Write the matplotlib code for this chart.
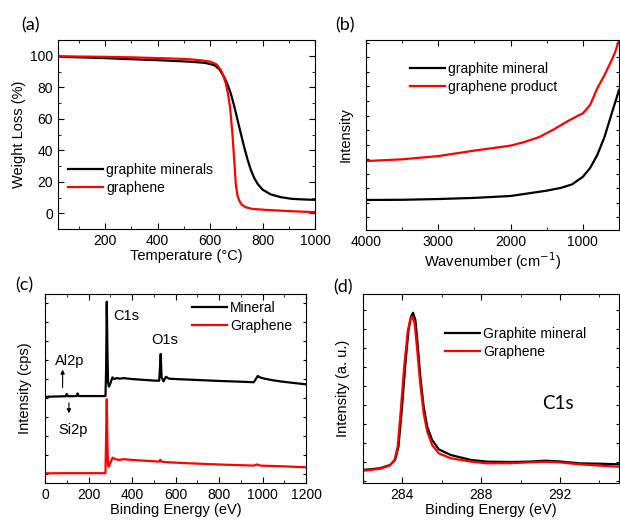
import numpy as np
import matplotlib
matplotlib.use('Agg')
import matplotlib.pyplot as plt
from matplotlib.ticker import MultipleLocator, NullFormatter

plt.rcParams['font.family'] = ['Liberation Sans', 'DejaVu Sans']
plt.rcParams['font.size'] = 10
plt.rcParams['xtick.direction'] = 'in'
plt.rcParams['ytick.direction'] = 'in'
plt.rcParams['xtick.top'] = True
plt.rcParams['ytick.right'] = True
plt.rcParams['xtick.major.size'] = 4
plt.rcParams['ytick.major.size'] = 4
plt.rcParams['xtick.minor.size'] = 2.5
plt.rcParams['ytick.minor.size'] = 2.5
plt.rcParams['axes.linewidth'] = 0.8

# (a) TGA
T_min = [20, 30, 100, 200, 300, 400, 500, 526, 580, 615, 635, 653, 666, 679, 692, 705,
         718, 730, 743, 756, 768, 781, 800, 832, 870, 909, 950, 1000]
w_min = [100, 99.3, 99.0, 98.5, 97.8, 97.2, 96.4, 96.2, 95.5, 94.1, 91.5, 86.6, 82, 76, 68, 59,
         50, 42, 34, 27.2, 22.5, 18.7, 15, 11.9, 10.2, 9.2, 8.8, 8.5]
T_gr = [20, 30, 100, 200, 300, 400, 500, 526, 570, 602, 625, 641, 651, 660, 668, 676, 685,
        692, 698, 704, 711, 720, 736, 760, 807, 909, 1000]
w_gr = [100, 99.7, 99.5, 99.3, 99.0, 98.5, 98.0, 97.7, 97.0, 96.2, 94.5, 90.9, 87, 82.4, 76, 67.5, 50.6,
        33.6, 18.7, 11.5, 8.1, 5.5, 3.8, 2.8, 2.2, 1.3, 0.7]

# (b) IR
wn_min = [4000, 3500, 3000, 2500, 2000, 1500, 1300, 1150, 1000, 900, 800, 700, 600, 550, 500]
ir_min = [15.8, 15.9, 16.3, 16.9, 17.9, 20.7, 22.2, 24, 28, 32.6, 39.5, 49, 61.5, 67.5, 73.7]
wn_gr = [4000, 3500, 3000, 2500, 2000, 1800, 1600, 1400, 1200, 1050, 1000, 900, 800, 700, 600, 550, 500]
ir_gr = [36.3, 37.2, 38.9, 41.8, 44.4, 46.4, 49, 53, 57.5, 60.5, 61.4, 65.8, 74.6, 81.6, 89.5, 94, 100]

# (c) XPS survey
be_min = [0, 60, 95, 100, 105, 145, 150, 155, 200, 278, 281, 284, 287, 290, 294, 300, 310, 318,
          330, 345, 360, 400, 450, 500, 525, 529, 532, 536, 545, 556, 570, 600, 700, 800, 900,
          960, 972, 978, 990, 1010, 1050, 1100, 1200]
xps_min = [45.6, 45.8, 45.9, 47.1, 45.9, 46.0, 47.4, 46.0, 46.0, 46.0, 60, 95.9, 70, 53, 51.0, 52.5,
           55.9, 55.0, 55.5, 55.2, 55.5, 55.0, 54.6, 54.2, 54.1, 62, 68.3, 56, 53.8, 56.2, 55.2, 55.0,
           54.5, 54.0, 53.6, 53.3, 55.5, 56.6, 55.8, 55.2, 54.3, 53.5, 52.2]
be_gr = [0, 100, 200, 278, 281, 284, 287, 290, 293, 300, 311, 320, 340, 360, 400, 500, 525, 530,
         535, 560, 667, 800, 960, 975, 990, 1100, 1200]
xps_gr = [5.1, 5.2, 5.2, 5.2, 25, 44.3, 20, 9.5, 8.6, 10.5, 13.4, 12.8, 12.2, 12.6, 12.2, 11.5, 11.3,
          12.3, 11.3, 11.0, 10.4, 9.8, 9.2, 9.8, 9.2, 8.8, 8.3]

# (d) C1s
e_min = [282, 282.86, 283.37, 283.63, 283.8, 283.97, 284.14, 284.31, 284.44, 284.54, 284.66,
         284.77, 284.91, 285.08, 285.26, 285.51, 285.85, 286.46, 287.48, 288.3, 289.5, 290.4,
         291.25, 292, 293, 294, 295]
c1s_min = [6.9, 7.8, 9.5, 12.2, 19.2, 38.6, 61.5, 81, 88, 90.1, 86.2,
           73.9, 56.2, 40.4, 29.8, 22.8, 17.8, 14.8, 12.2, 11.3, 11.1, 11.3,
           11.8, 11.4, 10.4, 10.2, 9.9]
e_gr = [282, 282.86, 283.37, 283.6, 283.76, 283.92, 284.09, 284.27, 284.4, 284.5, 284.62,
        284.74, 284.9, 285.08, 285.26, 285.51, 285.85, 286.46, 287.48, 288.3, 289.5, 290.4,
        291.25, 292, 293, 294, 295]
c1s_gr = [6.5, 7.5, 9.3, 12.2, 19.2, 38.6, 61.5, 80, 86.5, 88, 84.5,
          72, 53, 36.9, 27.2, 20.1, 15.7, 13.1, 11.3, 10.4, 10.5, 10.9,
          11.2, 10.9, 9.9, 9.2, 8.6]

W, H = 620, 524
fig = plt.figure(figsize=(W / 100, H / 100), dpi=100)


def box(l, t, r, b):
    return [l / W, (H - b) / H, (r - l) / W, (b - t) / H]


lw = 1.6
leg_kw = dict(frameon=False, loc='upper left', borderaxespad=0, borderpad=0,
              handlelength=2.5, handletextpad=0.25, labelspacing=0.3, fontsize=10)

# ---- (a)
ax = fig.add_axes(box(58, 40, 315, 229))
ax.plot(T_min, w_min, color='black', lw=lw, label='graphite minerals')
ax.plot(T_gr, w_gr, color='red', lw=lw, label='graphene')
ax.set_xlim(20, 1000)
ax.set_ylim(-10, 110)
ax.xaxis.set_major_locator(MultipleLocator(200))
ax.xaxis.set_minor_locator(MultipleLocator(100))
ax.yaxis.set_major_locator(MultipleLocator(20))
ax.yaxis.set_minor_locator(MultipleLocator(10))
ax.set_xticks([200, 400, 600, 800, 1000])
ax.set_yticks([0, 20, 40, 60, 80, 100])
ax.set_xlabel('Temperature (°C)', fontsize=10.5, labelpad=1)
ax.set_ylabel('Weight Loss (%)', fontsize=10.5, labelpad=3)
ax.legend(bbox_to_anchor=(0.039, 0.35), **leg_kw)

# ---- (b)
ax = fig.add_axes(box(366, 40, 619, 230))
ax.plot(wn_min, ir_min, color='black', lw=lw, label='graphite mineral')
ax.plot(wn_gr, ir_gr, color='red', lw=lw, label='graphene product')
ax.set_xlim(4000, 500)
ax.set_ylim(0, 100)
ax.xaxis.set_major_locator(MultipleLocator(1000))
ax.xaxis.set_minor_locator(MultipleLocator(500))
ax.set_yticks(np.arange(6.7, 100, 7.65))
ax.yaxis.set_major_formatter(NullFormatter())
ax.tick_params(axis='y', length=2.5)
ax.set_xlabel('Wavenumber (cm$^{-1}$)', fontsize=10.5, labelpad=1)
ax.set_ylabel('Intensity', fontsize=10.5, labelpad=6)
ax.legend(bbox_to_anchor=(0.174, 0.885), **leg_kw)

# ---- (c)
ax = fig.add_axes(box(45, 294, 306, 483))
ax.plot(be_min, xps_min, color='black', lw=lw, label='Mineral')
ax.plot(be_gr, xps_gr, color='red', lw=lw, label='Graphene')
ax.set_xlim(0, 1200)
ax.set_ylim(0, 100)
ax.xaxis.set_major_locator(MultipleLocator(200))
ax.xaxis.set_minor_locator(MultipleLocator(100))
ax.set_yticks(np.arange(4.8, 100, 10.07))
ax.yaxis.set_major_formatter(NullFormatter())
ax.tick_params(axis='y', length=2.5)
ax.set_xlabel('Binding Energy (eV)', fontsize=10.5, labelpad=1)
ax.set_ylabel('Intensity (cps)', fontsize=10.5, labelpad=6)
ax.text(374, 88.4, 'C1s', ha='center', va='center', fontsize=10.5)
ax.text(552, 75.7, 'O1s', ha='center', va='center', fontsize=10.5)
ax.text(115, 62.6, 'Al2p', ha='center', va='baseline', fontsize=10.5)
ax.text(130, 28, 'Si2p', ha='center', va='center', fontsize=10.5)
ax.annotate('', xy=(81, 61.5), xytext=(81, 49),
            arrowprops=dict(arrowstyle='-|>', color='black', lw=0.8, mutation_scale=6))
ax.annotate('', xy=(110, 35.4), xytext=(110, 43.9),
            arrowprops=dict(arrowstyle='-|>', color='black', lw=0.8, mutation_scale=6))
ax.legend(bbox_to_anchor=(0.563, 0.963), **leg_kw)

# ---- (d)
ax = fig.add_axes(box(363, 294, 619, 483))
ax.plot(e_min, c1s_min, color='black', lw=lw, label='Graphite mineral')
ax.plot(e_gr, c1s_gr, color='red', lw=lw, label='Graphene')
ax.set_xlim(282, 295)
ax.set_ylim(0, 100)
ax.xaxis.set_major_locator(MultipleLocator(4))
ax.xaxis.set_minor_locator(MultipleLocator(2))
ax.set_xticks([284, 288, 292])
ax.set_yticks(np.arange(1.3, 100, 10))
ax.yaxis.set_major_formatter(NullFormatter())
ax.tick_params(axis='y', length=2.5)
ax.set_xlabel('Binding Energy (eV)', fontsize=10.5, labelpad=1)
ax.set_ylabel('Intensity (a. u.)', fontsize=10.5, labelpad=6)
ax.text(0.76, 0.42, 'C1s', transform=ax.transAxes, ha='center', va='center',
        fontsize=13.5, family=['Lato', 'DejaVu Sans'])
ax.legend(bbox_to_anchor=(0.32, 0.825), **leg_kw)

# panel labels
for lab, x, y in [('(a)', 30, 25), ('(b)', 345, 25), ('(c)', 24, 285), ('(d)', 343, 287)]:
    fig.text(x / W, 1 - y / H, lab, ha='center', va='center', fontsize=13,
             family=['Lato', 'DejaVu Sans'])

fig.savefig('out.png', dpi=100)
